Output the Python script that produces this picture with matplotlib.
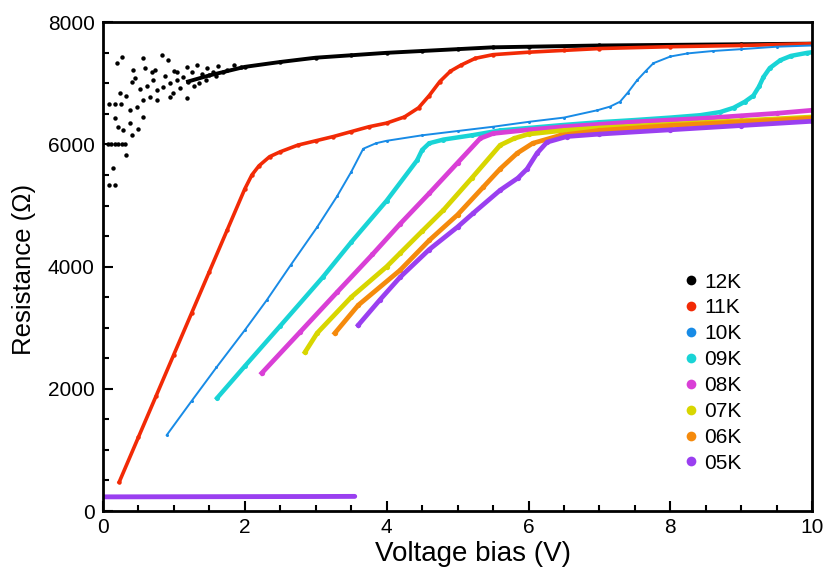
import matplotlib
matplotlib.use('Agg')
import matplotlib.pyplot as plt
from matplotlib.lines import Line2D
from matplotlib.ticker import MultipleLocator

plt.rcParams['font.family'] = ['Liberation Sans', 'DejaVu Sans']

#----------------------------------------------------------------------
# values (V in volts, R in ohms)
labels = ['12K', '11K', '10K', '09K', '08K', '07K', '06K', '05K']
colors = ['#000000', '#f22a06', '#188be6', '#19d4d6', '#d93fd6', '#d8d600', '#f58a0c', '#9a3ff0']

# 12K: scattered cloud at low bias, then a dense band
v12_cloud = [0.07, 0.12, 0.17, 0.22, 0.27, 0.31, 0.08, 0.17, 0.14, 0.32,
             0.08, 0.17, 0.26, 0.20, 0.27, 0.24, 0.17, 0.22, 0.28, 0.41,
             0.41, 0.45, 0.59, 0.69, 0.83, 0.92, 0.73, 0.38, 0.48, 0.56,
             0.66, 0.76, 0.85, 0.95, 1.04, 1.13, 0.38, 0.50, 0.56, 0.76,
             0.95, 0.99, 1.18, 1.09, 0.42, 0.56, 1.04, 1.18, 1.32, 1.47,
             0.33, 0.62, 0.88, 1.25, 0.52, 0.70, 1.00, 1.40, 1.55, 1.62,
             1.75, 1.85, 1.95, 1.60, 1.70, 1.28, 1.36, 1.45]
r12_cloud = [6000, 6000, 6000, 6000, 6000, 6000, 5330, 5330, 5610, 5820,
             6670, 6670, 6670, 7340, 7430, 6850, 6430, 6280, 6230, 6150,
             7020, 7090, 7250, 7190, 7460, 7380, 7215, 6560, 6610, 6720,
             6770, 6890, 6940, 7000, 7050, 7100, 6350, 6260, 6450, 6720,
             6770, 6840, 6760, 6920, 7215, 7410, 7190, 7270, 7300, 7250,
             6800, 6950, 7120, 7180, 6900, 7050, 7200, 7150, 7180, 7290,
             7220, 7300, 7270, 7120, 7180, 6960, 7000, 7060]
v12 = [1.2, 1.5, 2.0, 2.5, 3.0, 3.5, 4.0, 4.5, 5.0, 5.5, 6.0, 7.0, 8.0, 9.0, 10.0]
r12 = [7030, 7130, 7270, 7350, 7420, 7460, 7500, 7530, 7560, 7590, 7600, 7620, 7630, 7640, 7650]

v11 = [0.23, 0.5, 0.75, 1.0, 1.25, 1.5, 1.75, 2.0, 2.1, 2.2, 2.35, 2.5, 2.75, 3.0,
       3.25, 3.5, 3.75, 4.0, 4.25, 4.45, 4.6, 4.75, 4.9, 5.05, 5.25, 5.5, 6.0,
       6.5, 7.0, 8.0, 9.0, 10.0]
r11 = [474, 1206, 1883, 2561, 3238, 3916, 4593, 5271, 5500, 5650, 5800, 5880, 5990, 6060,
       6130, 6210, 6290, 6350, 6450, 6600, 6800, 7030, 7200, 7300, 7410, 7470, 7510,
       7540, 7570, 7600, 7620, 7650]

v10 = [0.9, 1.25, 1.6, 2.0, 2.31, 2.65, 3.02, 3.3, 3.5, 3.67, 3.85, 4.0, 4.5, 5.0,
       5.5, 6.0, 6.5, 6.97, 7.15, 7.29, 7.4, 7.53, 7.65, 7.76, 8.0, 8.24, 8.6, 9.0,
       9.5, 10.0]
r10 = [1243, 1800, 2350, 2960, 3452, 4030, 4646, 5150, 5550, 5930, 6020, 6060, 6150, 6220,
       6290, 6370, 6440, 6560, 6620, 6700, 6850, 7050, 7200, 7330, 7440, 7490, 7530, 7560,
       7600, 7620]

v09 = [1.61, 2.0, 2.5, 3.1, 3.5, 4.0, 4.43, 4.5, 4.6, 4.8, 5.2, 5.6, 6.0, 6.5, 7.0,
       7.5, 8.0, 8.42, 8.7, 8.89, 9.05, 9.17, 9.25, 9.31, 9.4, 9.55, 9.7, 9.93, 10.0]
r09 = [1849, 2370, 3030, 3828, 4400, 5080, 5742, 5910, 6020, 6080, 6150, 6230, 6270, 6320, 6364,
       6400, 6440, 6479, 6530, 6600, 6700, 6800, 6950, 7100, 7250, 7380, 7450, 7500, 7510]

v08 = [2.24, 2.78, 3.3, 3.8, 4.19, 4.6, 5.0, 5.32, 5.5, 6.0, 6.5, 7.0, 7.5, 8.0,
       8.5, 9.0, 9.5, 10.0]
r08 = [2258, 2930, 3580, 4200, 4700, 5200, 5700, 6100, 6180, 6240, 6290, 6330, 6370, 6400,
       6430, 6470, 6510, 6560]

v07 = [2.85, 3.02, 3.5, 4.0, 4.19, 4.5, 4.8, 5.2, 5.6, 5.8, 6.0, 6.5, 7.0, 8.0, 9.0, 10.0]
r07 = [2601, 2912, 3500, 4000, 4221, 4580, 4925, 5450, 5988, 6100, 6170, 6230, 6270, 6330, 6390, 6450]

v06 = [3.27, 3.6, 4.19, 4.6, 5.0, 5.36, 5.6, 5.84, 6.06, 6.45, 7.0, 8.0, 9.0, 10.0]
r06 = [2912, 3370, 3943, 4430, 4850, 5300, 5600, 5857, 6020, 6150, 6230, 6310, 6370, 6430]

v05 = [3.6, 3.9, 4.19, 4.6, 5.0, 5.22, 5.6, 5.85, 5.98, 6.12, 6.26, 6.54, 7.0, 8.0, 9.0, 10.0]
r05 = [3043, 3450, 3828, 4280, 4650, 4875, 5252, 5450, 5600, 5857, 6037, 6130, 6170, 6240, 6310, 6380]
# 05K low-resistance branch along the bottom
v05_low = [0.0, 1.0, 2.0, 3.0, 3.55]
r05_low = [232, 234, 236, 238, 240]


#----------------------------------------------------------------------
fig = plt.figure(figsize=(8.23, 5.71), dpi=100)
ax = fig.add_axes([0.125, 0.105, 0.862, 0.856])

series = [(v12, r12), (v11, r11), (v10, r10), (v09, r09),
          (v08, r08), (v07, r07), (v06, r06), (v05, r05)]
widths = [2.8, 2.6, 1.4, 3.2, 3.4, 3.4, 3.4, 3.4]
sizes = [3.2, 3.2, 2.2, 3.6, 3.8, 3.8, 3.8, 3.8]

ax.plot(v12_cloud, r12_cloud, 'o', color=colors[0], ms=3.2, mew=0)
for (v, r), c, w, s in zip(series, colors, widths, sizes):
    ax.plot(v, r, '-', color=c, lw=w, marker='o', ms=s, mew=0)
ax.plot(v05_low, r05_low, '-', color=colors[7], lw=3.5, solid_capstyle='round')

ax.set_xlim(0, 10)
ax.set_ylim(0, 8000)
ax.xaxis.set_major_locator(MultipleLocator(2))
ax.xaxis.set_minor_locator(MultipleLocator(0.5))
ax.yaxis.set_major_locator(MultipleLocator(2000))
ax.yaxis.set_minor_locator(MultipleLocator(500))
ax.tick_params(which='both', direction='in', top=False, right=False,
               labelsize=15, width=1.5)
ax.tick_params(which='major', length=7)
ax.tick_params(which='minor', length=4)
ax.tick_params(axis='x', pad=5)
ax.tick_params(axis='y', pad=6)
for sp in ax.spines.values():
    sp.set_linewidth(2)

ax.set_xlabel('Voltage bias (V)', fontsize=20)
ax.set_ylabel('Resistance (\u03a9)', fontsize=18.5)
ax.xaxis.set_label_coords(0.522, -0.062, transform=ax.transAxes)
ax.xaxis.label.set_va('top')
ax.yaxis.set_label_coords(-0.0945, 0.495, transform=ax.transAxes)

handles = [Line2D([], [], ls='none', marker='o', ms=7, mew=0, color=c) for c in colors]
ax.legend(handles, labels, loc='upper left', bbox_to_anchor=(0.808, 0.505),
          frameon=False, fontsize=15, handlelength=0.6, handletextpad=0.35,
          labelspacing=0.33, borderaxespad=0)

fig.savefig('out.png', dpi=100)
